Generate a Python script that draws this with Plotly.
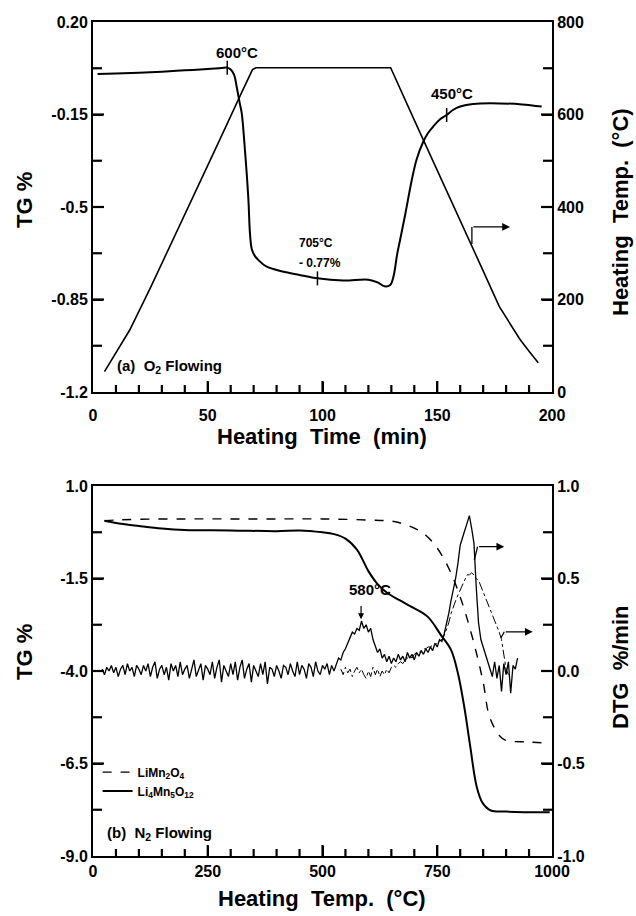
import plotly.graph_objects as go

# ---------------- (a) O2 flowing : TG and heating temperature vs time ----------------
time_tg = [2, 10, 20, 30, 40, 50, 56, 58.5, 60, 61.5, 62.6, 64, 64.8, 66.2, 67.7, 68.4, 69.2,
           70.5, 72, 75.5, 82.6, 90, 97.8, 109, 120, 124, 127, 129.5, 131, 132.5, 133.8, 136,
           138.9, 141, 143.9, 146, 148.2, 151, 154.1, 157, 160, 165.6, 177.3, 187, 195.5]
tg_o2 = [0.003, 0.005, 0.008, 0.012, 0.017, 0.022, 0.026, 0.027, 0.020, 0.000, -0.045, -0.11,
         -0.145, -0.284, -0.47, -0.60, -0.66, -0.685, -0.70, -0.725, -0.744, -0.757, -0.770,
         -0.778, -0.775, -0.785, -0.800, -0.795, -0.760, -0.680, -0.625, -0.530, -0.398, -0.320,
         -0.253, -0.220, -0.196, -0.170, -0.152, -0.132, -0.120, -0.110, -0.108, -0.112, -0.120]

time_temp = [5, 10, 16, 25, 35, 45, 55, 65, 69.5, 71, 100, 129.7, 140, 150, 160, 170, 177,
             182, 186, 190, 194]
temp_c = [44, 86, 134, 225, 330, 437, 543, 650, 697, 701, 701, 701, 588, 480, 373, 262, 185,
          145, 114, 88, 63]

mark_time = [58.5, 97.8, 154.1]
mark_tg = [0.027, -0.770, -0.152]

# ---------------- (b) N2 flowing : TG and DTG vs temperature ----------------
t_tg_a = [25, 50, 100, 200, 300, 400, 500, 600, 650, 675, 700, 725, 750, 775, 800, 825, 850,
          862, 875, 885, 898, 950, 995]
tg_limn2o4 = [0.06, 0.08, 0.10, 0.11, 0.11, 0.11, 0.11, 0.08, 0.05, -0.02, -0.14, -0.33,
              -0.68, -1.22, -2.00, -3.02, -4.30, -5.16, -5.55, -5.74, -5.87, -5.92, -5.95]

t_tg_b = [25, 50, 100, 150, 200, 300, 400, 450, 500, 525, 550, 575, 600, 620, 642, 670, 693,
          729, 758, 780, 795, 809, 822, 836, 849, 867, 900, 995]
tg_li4mn5o12 = [0.06, 0.00, -0.08, -0.15, -0.19, -0.20, -0.22, -0.20, -0.25, -0.30, -0.42,
                -0.72, -1.30, -1.65, -1.90, -2.10, -2.26, -2.53, -3.03, -3.43, -4.06, -4.98,
                -6.05, -7.13, -7.57, -7.77, -7.80, -7.82]

t_dtg_b = [20, 25, 30, 35, 40, 45, 50, 55, 60, 65, 70, 75, 80, 85, 90, 95, 100,
           105, 110, 115, 120, 125, 130, 135, 140, 145, 150, 155, 160, 165, 170, 175, 180, 185, 190, 195, 200,
           205, 210, 215, 220, 225, 230, 235, 240, 245, 250, 255, 260, 265, 270, 275, 280, 285, 290, 295, 300,
           305, 310, 315, 320, 325, 330, 335, 340, 345, 350, 355, 360, 365, 370, 375, 380, 385, 390, 395, 400,
           405, 410, 415, 420, 425, 430, 435, 440, 445, 450, 455, 460, 465, 470, 475, 480, 485, 490, 495, 500,
           505, 510, 515, 520, 525, 530, 535, 540, 545, 550, 555, 560, 565, 570, 575, 580, 585, 590, 595, 600,
           605, 610, 615, 620, 625, 630, 635, 640, 645, 650, 655, 660, 665, 670, 675, 680, 685, 690, 695, 700,
           705, 710, 715, 720, 725, 730, 735, 740, 745, 750, 755, 760, 765, 770, 775, 780, 785, 790, 795, 800,
           805, 810, 815, 820, 825, 830, 835, 840, 845, 850, 855, 860, 865, 870, 875, 880, 885, 890, 895, 900,
           905, 910, 915, 920, 925]
dtg_li4mn5o12 = [0.01, -0.02, 0.02, 0.00, 0.03, -0.01, 0.02, -0.03, 0.01, 0.03, -0.02, 0.04, 0.00, 0.02, -0.03, 0.03, 0.01,
                 -0.02, 0.03, 0.00, 0.04, -0.03, 0.02, 0.05, -0.04, 0.01, 0.03, -0.02, 0.02, -0.05, 0.04, 0.00, 0.03, -0.03, 0.05, -0.02, 0.01,
                 0.03, -0.04, 0.02, 0.06, -0.03, 0.00, 0.04, -0.05, 0.03, 0.01, -0.02, 0.05, -0.04, 0.02, 0.06, -0.06, 0.03, 0.00, -0.03, 0.04,
                 -0.02, 0.05, -0.05, 0.02, 0.06, -0.04, 0.01, 0.04, -0.06, 0.03, 0.00, -0.03, 0.04, -0.02, 0.05, -0.07, 0.02, 0.01, -0.03, 0.03,
                 0.00, -0.04, 0.03, 0.02, -0.02, 0.04, 0.00, -0.03, 0.05, -0.02, 0.03, 0.01, -0.04, 0.04, 0.02, -0.03, 0.05, 0.00, -0.02, 0.03,
                 0.01, 0.04, -0.02, 0.03, 0.00, 0.04, 0.07, 0.06, 0.10, 0.12, 0.15, 0.18, 0.21, 0.20, 0.23, 0.22, 0.27, 0.23, 0.25, 0.21,
                 0.23, 0.17, 0.14, 0.10, 0.12, 0.07, 0.09, 0.05, 0.08, 0.04, 0.07, 0.05, 0.09, 0.06, 0.08, 0.05, 0.10, 0.07, 0.09, 0.06,
                 0.10, 0.08, 0.11, 0.09, 0.12, 0.10, 0.13, 0.11, 0.15, 0.13, 0.17, 0.16, 0.20, 0.25, 0.31, 0.38, 0.44, 0.50, 0.58, 0.68,
                 0.72, 0.76, 0.80, 0.84, 0.77, 0.69, 0.45, 0.26, 0.17, 0.13, 0.08, 0.04, 0.01, -0.03, 0.05, -0.04, 0.03, -0.11, 0.04, -0.02,
                 0.05, -0.12, 0.03, 0.01, 0.07]

t_dtg_a = [540, 545, 550, 555, 560, 565, 570, 575, 580, 585, 590, 595, 600,
           605, 610, 615, 620, 625, 630, 635, 640, 645, 650, 655, 660, 665, 670, 675, 680, 685, 690, 695, 700,
           705, 710, 715, 720, 725, 730, 735, 740, 745, 750, 755, 760, 765, 770, 775, 780, 785, 790, 795, 800,
           805, 810, 815, 820, 825, 830, 835, 840, 845, 850, 855, 860, 865, 870, 875, 880, 885, 890, 895, 900, 905]
dtg_limn2o4 = [0.01, -0.02, 0.02, -0.01, 0.01, -0.03, 0.00, 0.02, -0.01, 0.01, -0.02, -0.04, 0.00,
               -0.03, 0.02, -0.02, 0.01, -0.03, 0.00, -0.02, 0.01, -0.01, 0.02, 0.03, 0.02, 0.04, 0.05, 0.04, 0.06, 0.07, 0.08, 0.07, 0.09,
               0.10, 0.10, 0.11, 0.12, 0.12, 0.13, 0.13, 0.14, 0.14, 0.15, 0.16, 0.17, 0.19, 0.22, 0.26, 0.31, 0.35, 0.38, 0.41, 0.44,
               0.47, 0.50, 0.52, 0.52, 0.53, 0.52, 0.50, 0.49, 0.46, 0.42, 0.39, 0.36, 0.33, 0.30, 0.27, 0.24, 0.21, 0.17, 0.08, 0.01, -0.02]

# axis ticks and labels
x_a_ticks = [0, 50, 100, 150, 200]
x_a_minor = [10, 20, 30, 40, 60, 70, 80, 90, 110, 120, 130, 140, 160, 170, 180, 190]
tg_a_ticks = [0.20, -0.15, -0.5, -0.85, -1.2]
tg_a_text = ["0.20", "-0.15", "-0.5", "-0.85", "-1.2"]
tg_a_minor = [0.025, -0.325, -0.675, -1.025]
temp_ticks = [0, 200, 400, 600, 800]
temp_minor = [100, 300, 500, 700]
x_b_ticks = [0, 250, 500, 750, 1000]
x_b_minor = [50, 100, 150, 200, 300, 350, 400, 450, 550, 600, 650, 700, 800, 850, 900, 950]
tg_b_ticks = [1.0, -1.5, -4.0, -6.5, -9.0]
tg_b_text = ["1.0", "-1.5", "-4.0", "-6.5", "-9.0"]
tg_b_minor = [-0.25, -2.75, -5.25, -7.75]
dtg_ticks = [1.0, 0.5, 0.0, -0.5, -1.0]
dtg_text = ["1.0", "0.5", "0.0", "-0.5", "-1.0"]
dtg_minor = [0.75, 0.25, -0.25, -0.75]

FONT = "Liberation Sans, Arial, Helvetica, sans-serif"
BLK = "#000000"

fig = go.Figure()

# (a)
fig.add_trace(go.Scatter(x=time_tg, y=tg_o2, mode="lines", line=dict(color=BLK, width=2),
                         xaxis="x", yaxis="y", showlegend=False, line_shape="spline"))
fig.add_trace(go.Scatter(x=time_temp, y=temp_c, mode="lines", line=dict(color=BLK, width=1.6),
                         xaxis="x", yaxis="y2", showlegend=False))
fig.add_trace(go.Scatter(x=mark_time, y=mark_tg, mode="markers",
                         marker=dict(symbol="line-ns", size=10, line=dict(color=BLK, width=1.5)),
                         xaxis="x", yaxis="y", showlegend=False))

# (b)
fig.add_trace(go.Scatter(x=t_tg_a, y=tg_limn2o4, mode="lines", name="LiMn<sub>2</sub>O<sub>4</sub>",
                         line=dict(color=BLK, width=1.4, dash="dash"), line_shape="spline",
                         xaxis="x2", yaxis="y3"))
fig.add_trace(go.Scatter(x=t_tg_b, y=tg_li4mn5o12, mode="lines", name="Li<sub>4</sub>Mn<sub>5</sub>O<sub>12</sub>",
                         line=dict(color=BLK, width=2), line_shape="spline",
                         xaxis="x2", yaxis="y3"))
fig.add_trace(go.Scatter(x=t_dtg_b, y=dtg_li4mn5o12, mode="lines", line=dict(color=BLK, width=1.3),
                         xaxis="x2", yaxis="y4", showlegend=False))
fig.add_trace(go.Scatter(x=t_dtg_a, y=dtg_limn2o4, mode="lines", line=dict(color=BLK, width=1, dash="dashdot"),
                         xaxis="x2", yaxis="y4", showlegend=False))

tickfont = dict(family=FONT, size=16, color=BLK, weight="bold")


def axis(major, rng, text=None, **kw):
    d = dict(showgrid=False, zeroline=False, showline=True, linecolor=BLK, linewidth=2,
             ticks="inside", tickcolor=BLK, tickwidth=2, ticklen=10, tickfont=tickfont,
             range=rng, tickmode="array", tickvals=major, showticklabels=True)
    if text is not None:
        d["ticktext"] = text
    d.update(kw)
    return d


top_dom = [1 - 370 / 834, 1]
bot_dom = [0, 370 / 834]

fig.update_layout(
    template="none",
    width=636, height=916, autosize=False,
    paper_bgcolor="white", plot_bgcolor="white",
    margin=dict(l=93, r=84, t=22, b=60),
    font=dict(family=FONT, color=BLK),
    xaxis=axis(x_a_ticks, [0, 200], domain=[0, 1], anchor="y", mirror=True, ticklabelstandoff=8),
    yaxis=axis(tg_a_ticks, [-1.2, 0.2], tg_a_text, domain=top_dom, anchor="x"),
    yaxis2=axis(temp_ticks, [0, 800], overlaying="y", side="right", anchor="x"),
    xaxis2=axis(x_b_ticks, [0, 1000], domain=[0, 1], anchor="y3", mirror=True, ticklabelstandoff=0),
    yaxis3=axis(tg_b_ticks, [-9.0, 1.0], tg_b_text, domain=bot_dom, anchor="x2"),
    yaxis4=axis(dtg_ticks, [-1.0, 1.0], dtg_text, overlaying="y3", side="right", anchor="x2"),
    legend=dict(x=0.01, y=0.118, xanchor="left", yanchor="top", bgcolor="rgba(0,0,0,0)",
                font=dict(family=FONT, size=12, color=BLK, weight="bold"), tracegroupgap=0,
                itemwidth=30),
)

# tick marks drawn inward from the axis lines, placed through the axes' own scales
MAJ_X, MIN_X = 11 / 370, 7 / 370
MAJ_Y, MIN_Y = 11 / 459, 9 / 459
tick_line = dict(color=BLK, width=2.2)
shapes = []


def xticks(vals, xref, yref, ln):
    for v in vals:
        shapes.append(dict(type="line", xref=xref, yref=yref + " domain", x0=v, x1=v, y0=0, y1=ln,
                           line=tick_line, layer="above"))


def yticks(vals, xref, yref, ln, right=False):
    for v in vals:
        x0, x1 = (1, 1 - ln) if right else (0, ln)
        shapes.append(dict(type="line", xref=xref + " domain", yref=yref, x0=x0, x1=x1, y0=v, y1=v,
                           line=tick_line, layer="above"))


xticks(x_a_ticks[1:-1], "x", "y", MAJ_X)
xticks(x_a_minor, "x", "y", MIN_X)
yticks(tg_a_ticks[1:-1], "x", "y", MAJ_Y)
yticks(tg_a_minor, "x", "y", MIN_Y)
yticks(temp_ticks[1:-1], "x", "y2", MAJ_Y, right=True)
yticks(temp_minor, "x", "y2", MIN_Y, right=True)
xticks(x_b_ticks[1:-1], "x2", "y3", MAJ_X)
xticks(x_b_minor, "x2", "y3", MIN_X)
yticks(tg_b_ticks[1:-1], "x2", "y3", MAJ_Y)
yticks(tg_b_minor, "x2", "y3", MIN_Y)
yticks(dtg_ticks[1:-1], "x2", "y4", MAJ_Y, right=True)
yticks(dtg_minor, "x2", "y4", MIN_Y, right=True)

# arrow connectors (bends)
conn = dict(color=BLK, width=1.3)
shapes.append(dict(type="line", x0=165.1, y0=320, x1=165.1, y1=357, xref="x", yref="y2", line=conn))
shapes.append(dict(type="line", x0=830.7, y0=0.60, x1=838, y1=0.672, xref="x2", yref="y4", line=conn))
shapes.append(dict(type="line", x0=889, y0=0.18, x1=896, y1=0.212, xref="x2", yref="y4", line=conn))
fig.update_layout(shapes=shapes)


def ypaper(py):
    return 1 - (py - 22) / 834


def xpaper(px):
    return (px - 93) / 459


title_font = dict(family=FONT, size=22, color=BLK, weight="bold")
ann = []
for txt, px, py, ang in [("TG %", 24, 200, -90),
                         ("Heating\u00a0 Temp.\u00a0 (°C)", 620, 212, -90),
                         ("Heating\u00a0 Time\u00a0 (min)", 322, 436, 0),
                         ("TG %", 24, 652, -90),
                         ("DTG\u00a0 %/min", 620, 668, -90),
                         ("Heating\u00a0 Temp.\u00a0 (°C)", 322, 899, 0)]:
    ann.append(dict(text=txt, x=xpaper(px), y=ypaper(py), xref="paper", yref="paper",
                    xanchor="center", yanchor="middle", textangle=ang, showarrow=False,
                    font=title_font))

lab = dict(family=FONT, size=15, color=BLK, weight="bold")
small = dict(family=FONT, size=12, color=BLK, weight="bold")
ann.append(dict(text="600°C", x=62.7, y=0.0865, xref="x", yref="y", showarrow=False, font=lab))
ann.append(dict(text="450°C", x=156.4, y=-0.069, xref="x", yref="y", showarrow=False, font=lab))
ann.append(dict(text="705°C", x=97.2, y=-0.6375, xref="x", yref="y", showarrow=False, font=small))
ann.append(dict(text="- 0.77%", x=98.7, y=-0.7125, xref="x", yref="y", showarrow=False, font=small))
ann.append(dict(text="(a)\u00a0 O<sub>2</sub> Flowing", x=9.6, y=-1.105, xref="x", yref="y",
                xanchor="left", yanchor="middle", showarrow=False, font=lab))
ann.append(dict(text="", x=181.7, y=357, xref="x", yref="y2", ax=165.1, ay=357, axref="x", ayref="y2",
                showarrow=True, arrowhead=2, arrowsize=1.2, arrowwidth=1.3, arrowcolor=BLK))
ann.append(dict(text="580°C", x=603, y=-1.81, xref="x2", yref="y3", showarrow=False, font=lab))
ann.append(dict(text="", x=584, y=0.28, xref="x2", yref="y4", ax=584, ay=0.36, axref="x2", ayref="y4",
                showarrow=True, arrowhead=2, arrowsize=1, arrowwidth=1.2, arrowcolor=BLK))
ann.append(dict(text="", x=896, y=0.672, xref="x2", yref="y4", ax=838, ay=0.672, axref="x2", ayref="y4",
                showarrow=True, arrowhead=2, arrowsize=1.2, arrowwidth=1.3, arrowcolor=BLK))
ann.append(dict(text="", x=958, y=0.212, xref="x2", yref="y4", ax=896, ay=0.212, axref="x2", ayref="y4",
                showarrow=True, arrowhead=2, arrowsize=1.2, arrowwidth=1.3, arrowcolor=BLK))
ann.append(dict(text="(b)\u00a0 N<sub>2</sub> Flowing", x=26, y=-8.38, xref="x2", yref="y3",
                xanchor="left", yanchor="middle", showarrow=False, font=lab))
fig.update_layout(annotations=ann)

fig.write_html("out.html", config={"displayModeBar": False},
               post_script="document.body.style.margin='0';document.body.style.overflow='hidden';")
